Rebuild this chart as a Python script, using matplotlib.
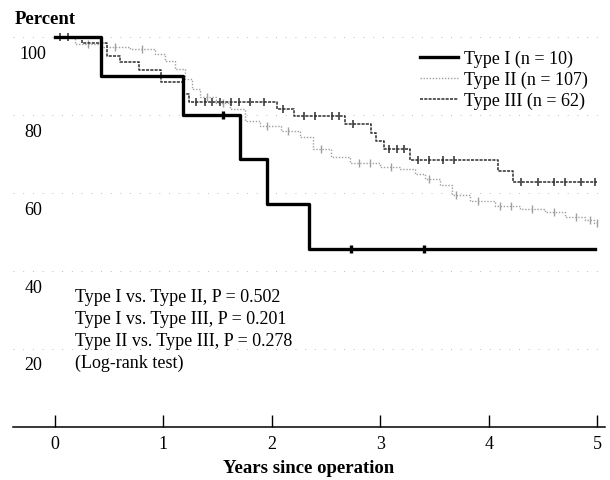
import matplotlib
matplotlib.use("Agg")
import matplotlib.pyplot as plt
import matplotlib.transforms as mtransforms
import numpy as np

plt.rcParams["font.family"] = ["Liberation Serif", "DejaVu Serif"]

# Kaplan-Meier step curves: time of each step (years) and survival after it (%)
type1_t = [0.0, 0.42, 1.18, 1.71, 1.95, 2.34]
type1_s = [100.0, 90.0, 80.0, 68.6, 57.1, 45.7]
type1_cens = [1.55, 2.73, 3.40]
type1_end = 4.98

type2_t = [0.0, 0.18, 0.42, 0.69, 0.92, 1.01, 1.11, 1.20, 1.26, 1.34, 1.48,
           1.61, 1.75, 1.89, 2.08, 2.26, 2.38, 2.54, 2.72, 3.00, 3.18, 3.32,
           3.41, 3.55, 3.66, 3.83, 4.06, 4.29, 4.52, 4.70, 4.89, 4.97]
type2_s = [100.0, 98.2, 97.4, 96.9, 95.6, 93.8, 91.8, 89.2, 86.7, 84.6, 83.1,
           81.5, 78.5, 77.2, 75.9, 74.4, 71.3, 69.2, 67.7, 66.7, 66.2, 64.9,
           63.6, 62.1, 59.5, 57.9, 56.7, 55.9, 55.1, 53.8, 53.1, 52.3]
type2_cens = [0.30, 0.55, 0.80, 1.40, 1.55, 1.95, 2.15, 2.45, 2.80, 2.90,
              3.10, 3.45, 3.70, 3.90, 4.10, 4.20, 4.40, 4.60, 4.80, 4.93, 5.0]
type2_end = 5.0

type3_t = [0.0, 0.25, 0.48, 0.60, 0.77, 0.98, 1.19, 1.24, 2.05, 2.20, 2.67,
           2.91, 2.96, 3.03, 3.27, 4.08, 4.22]
type3_s = [100.0, 98.4, 95.1, 93.6, 91.5, 88.5, 85.4, 83.3, 81.5, 79.7, 77.7,
           75.5, 73.3, 71.3, 68.5, 65.6, 62.8]
type3_cens = [0.05, 0.12, 1.30, 1.38, 1.45, 1.52, 1.62, 1.70, 1.80, 1.93,
              2.10, 2.30, 2.40, 2.55, 2.62, 2.75, 3.08, 3.15, 3.22, 3.35,
              3.45, 3.58, 3.68, 4.30, 4.45, 4.60, 4.70, 4.85, 4.98]
type3_end = 5.0

legend_labels = ["Type I (n = 10)", "Type II (n = 107)", "Type III (n = 62)"]
x_ticks = [0, 1, 2, 3, 4, 5]
y_ticks = [20, 40, 60, 80, 100]
stats_lines = ["Type I vs. Type II, P = 0.502",
               "Type I vs. Type III, P = 0.201",
               "Type II vs. Type III, P = 0.278",
               "(Log-rank test)"]

fig = plt.figure(figsize=(6.10, 4.81), dpi=100)
ax = fig.add_axes([0.0213, 0.1102, 0.9705, 0.8432])
ax.set_xlim(-0.387, 5.07)
ax.set_ylim(0, 104)


def surv_at(times, surv, t):
    idx = np.searchsorted(times, t, side="right") - 1
    return surv[idx]


def draw_km(times, surv, end, cens, label, **style):
    xs = list(times) + [end]
    ys = list(surv) + [surv[-1]]
    line, = ax.step(xs, ys, where="post", label=label, **style)
    cy = [surv_at(times, surv, c) for c in cens]
    ax.plot(cens, cy, linestyle="none", marker="|", markersize=6,
            markeredgewidth=style.get("lw", 1.0), color=style["color"])
    return line


# faint dotted reference lines
for yv in y_ticks:
    ax.axhline(yv, color="#bdbdbd", lw=0.7, linestyle=(0, (1, 9)), zorder=0)

draw_km(type2_t, type2_s, type2_end, type2_cens, legend_labels[1],
        color="#a0a0a0", lw=1.0, linestyle=(0, (1, 1.2)))
draw_km(type3_t, type3_s, type3_end, type3_cens, legend_labels[2],
        color="#2e2e2e", lw=1.1, linestyle=(0, (2, 0.8)))
draw_km(type1_t, type1_s, type1_end, type1_cens, legend_labels[0],
        color="black", lw=2.4, linestyle="-")

handles, labels = ax.get_legend_handles_labels()
order = [2, 0, 1]
leg = ax.legend([handles[i] for i in order], [labels[i] for i in order],
                loc="upper left", bbox_to_anchor=(0.676, 0.948),
                frameon=False, fontsize=13, handlelength=2.1,
                handletextpad=0.3, labelspacing=0.2, borderaxespad=0)

# axes styling: only the bottom spine
for side in ["left", "right", "top"]:
    ax.spines[side].set_visible(False)
ax.spines["bottom"].set_linewidth(1.1)
ax.set_xticks(x_ticks)
ax.set_xticklabels([str(v) for v in x_ticks], fontsize=13)
ax.tick_params(axis="x", direction="in", length=9, width=1.0, pad=6)
ax.set_yticks([])

# y values written inside the plot, a little below their reference lines
ylab_tr = mtransforms.offset_copy(ax.transData, fig=fig, x=0, y=-16,
                                  units="dots")
for yv in y_ticks:
    ax.text(-0.20, yv, str(yv), transform=ylab_tr, ha="center",
            va="center", fontsize=13)

fig.text(15 / 610, 1 - 20 / 481, "Percent", fontsize=13.5,
         fontweight="bold", ha="left", va="center")
ax.set_xlabel("Years since operation", fontsize=13.5, fontweight="bold",
              labelpad=5)

ax.text(0.18, 35.6, "\n".join(stats_lines), fontsize=13, ha="left",
        va="top", linespacing=1.38)

fig.savefig("out.png", dpi=100)
